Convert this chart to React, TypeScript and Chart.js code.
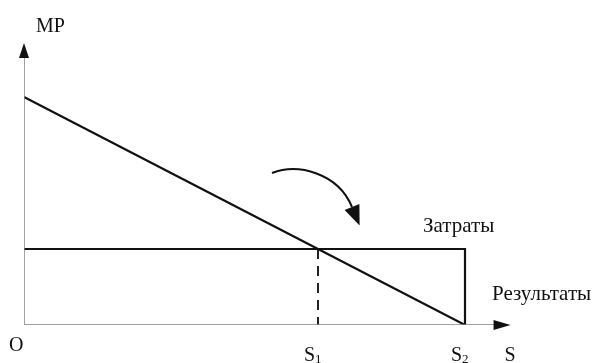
import React, { useEffect, useRef } from "react";
import { Chart, registerables } from "chart.js";

Chart.register(...registerables);

// S values: origin, S1, S2
const sValues = [0, 2, 3];
// Marginal product (MP) at those S values
const mpValues = [3, 1, 0];
// Cost level (Затраты)
const costLevel = 1;
// Axis extents (data units)
const xAxisEnd = 3.31;
const yAxisEnd = 3.71;
// Labels
const xTickLabels = ["O", "S", "S"];
const xTickSubs = ["", "1", "2"];
const axisXLabel = "S";
const axisYLabel = "MP";
const costLabel = "Затраты";
const resultLabel = "Результаты";

const FONT = '"Liberation Serif", "Times New Roman", serif';

const decorPlugin = {
  id: "decor",
  afterDatasetsDraw(chart: any) {
    const ctx = chart.ctx as CanvasRenderingContext2D;
    const xs = chart.scales.x;
    const ys = chart.scales.y;
    const px = (v: number) => xs.getPixelForValue(v);
    const py = (v: number) => ys.getPixelForValue(v);
    ctx.save();

    // axis arrowheads
    const ox = px(0);
    const oy = py(0);
    const xt = px(xAxisEnd);
    const yt = py(yAxisEnd);
    ctx.fillStyle = "#111";
    ctx.beginPath();
    ctx.moveTo(xt, oy);
    ctx.lineTo(xt - 17, oy - 5);
    ctx.lineTo(xt - 17, oy + 5);
    ctx.closePath();
    ctx.fill();
    ctx.beginPath();
    ctx.moveTo(ox, yt);
    ctx.lineTo(ox - 5, yt + 15);
    ctx.lineTo(ox + 5, yt + 15);
    ctx.closePath();
    ctx.fill();

    // curved arrow near intersection (S1, cost)
    const ix = px(sValues[1]);
    const iy = py(costLevel);
    const p0 = [ix - 46, iy - 76];
    const p1 = [ix - 20, iy - 86];
    const p2 = [ix + 20, iy - 76];
    const p3 = [ix + 34, iy - 42];
    ctx.strokeStyle = "#111";
    ctx.lineWidth = 2;
    ctx.beginPath();
    ctx.moveTo(p0[0], p0[1]);
    ctx.bezierCurveTo(p1[0], p1[1], p2[0], p2[1], p3[0], p3[1]);
    ctx.stroke();
    let dx = p3[0] - p2[0];
    let dy = p3[1] - p2[1];
    const len = Math.hypot(dx, dy);
    dx /= len;
    dy /= len;
    const tip = [p3[0] + dx * 20, p3[1] + dy * 20];
    const nx = -dy;
    const ny = dx;
    ctx.beginPath();
    ctx.moveTo(tip[0], tip[1]);
    ctx.lineTo(p3[0] + nx * 8, p3[1] + ny * 8);
    ctx.lineTo(p3[0] - nx * 8, p3[1] - ny * 8);
    ctx.closePath();
    ctx.fill();

    // texts
    ctx.fillStyle = "#111";
    ctx.textBaseline = "alphabetic";
    ctx.textAlign = "left";
    ctx.font = `20px ${FONT}`;
    ctx.fillText(axisYLabel, ox + 12, 32);
    ctx.fillText(xTickLabels[0], ox - 15, oy + 26);
    for (let i = 1; i < sValues.length; i++) {
      const x = px(sValues[i]);
      ctx.font = `20px ${FONT}`;
      ctx.fillText(xTickLabels[i], x - 14, oy + 36);
      const w = ctx.measureText(xTickLabels[i]).width;
      ctx.font = `13px ${FONT}`;
      ctx.fillText(xTickSubs[i], x - 14 + w, oy + 38);
    }
    ctx.font = `20px ${FONT}`;
    ctx.fillText(axisXLabel, xt - 6, oy + 36);
    ctx.font = `21px ${FONT}`;
    ctx.fillText(costLabel, px(sValues[2]) - 42, iy - 17);
    ctx.fillText(resultLabel, px(sValues[2]) + 27, oy - 25);
    ctx.restore();
  },
};

export default function App() {
  const ref = useRef<HTMLCanvasElement | null>(null);
  useEffect(() => {
    document.body.style.margin = "0";
    const canvas = ref.current!;
    const gray = "#808080";
    const black = "#111";
    const chart = new Chart(canvas, {
      type: "scatter",
      data: {
        datasets: [
          {
            label: "x-axis",
            data: [
              { x: 0, y: 0 },
              { x: xAxisEnd - 0.05, y: 0 },
            ],
            showLine: true,
            borderColor: gray,
            borderWidth: 1.5,
            pointRadius: 0,
          },
          {
            label: "y-axis",
            data: [
              { x: 0, y: 0 },
              { x: 0, y: yAxisEnd - 0.1 },
            ],
            showLine: true,
            borderColor: gray,
            borderWidth: 1.5,
            pointRadius: 0,
          },
          {
            label: "MP",
            data: sValues.map((s, i) => ({ x: s, y: mpValues[i] })),
            showLine: true,
            borderColor: black,
            borderWidth: 2.2,
            pointRadius: 0,
          },
          {
            label: "Затраты",
            data: [
              { x: sValues[0], y: costLevel },
              { x: sValues[2], y: costLevel },
              { x: sValues[2], y: 0 },
            ],
            showLine: true,
            borderColor: black,
            borderWidth: 2.2,
            pointRadius: 0,
          },
          {
            label: "S1",
            data: [
              { x: sValues[1], y: costLevel },
              { x: sValues[1], y: 0 },
            ],
            showLine: true,
            borderColor: "#222",
            borderWidth: 2,
            borderDash: [10, 7],
            pointRadius: 0,
          },
        ],
      },
      options: {
        animation: false,
        responsive: true,
        maintainAspectRatio: false,
        layout: { padding: { left: 24, right: 43.8, top: 21, bottom: 38 } },
        plugins: { legend: { display: false }, tooltip: { enabled: false } },
        scales: {
          x: { type: "linear", min: 0, max: 3.6, display: false },
          y: { type: "linear", min: 0, max: 4, display: false },
        },
      },
      plugins: [decorPlugin],
    });
    return () => chart.destroy();
  }, []);
  return (
    <div style={{ width: 597, height: 363, position: "relative", background: "#fff" }}>
      <canvas ref={ref} />
    </div>
  );
}
